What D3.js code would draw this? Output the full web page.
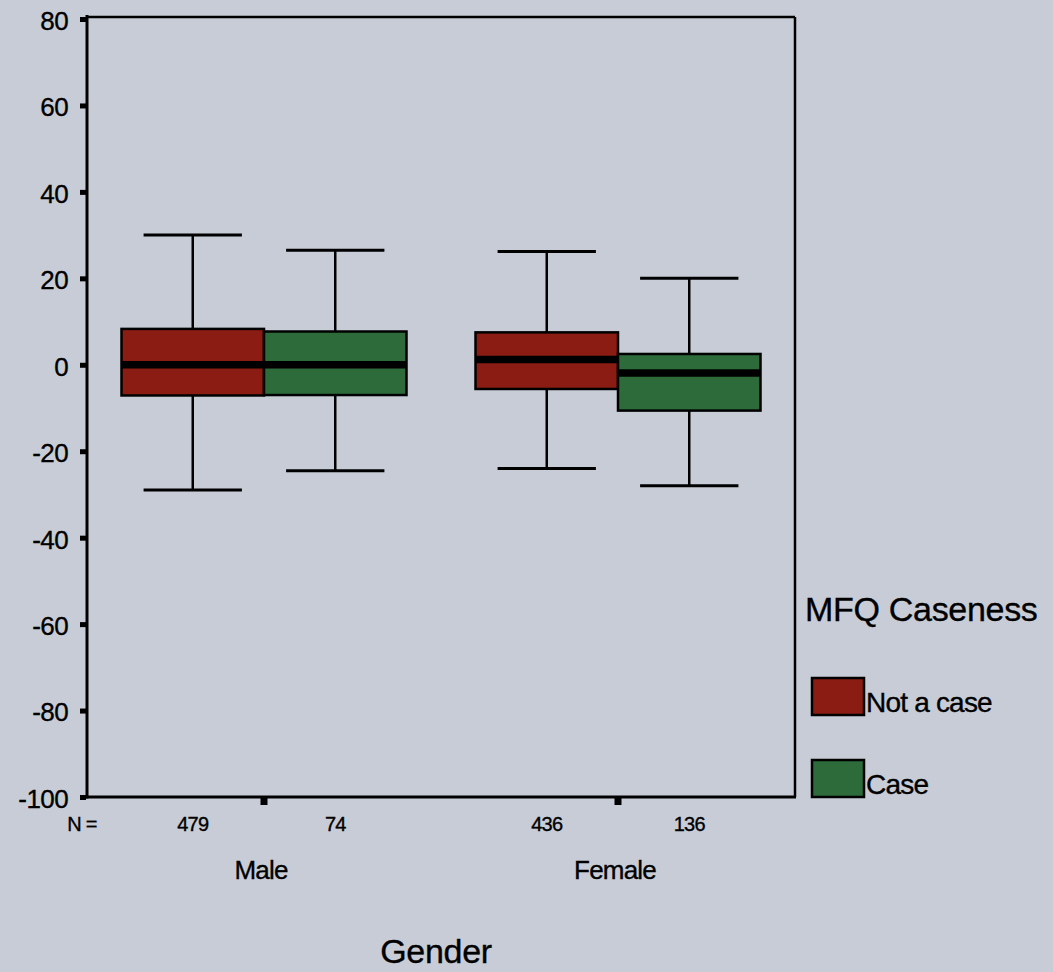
<!DOCTYPE html>
<html>
<head>
<meta charset="utf-8">
<title>MFQ Caseness by Gender</title>
<style>
body { margin: 0; background: #c8ccd6; }
svg { display: block; }
text { font-family: "Liberation Sans", Arial, sans-serif; fill: #000; stroke: #000; stroke-width: 0.35px; }
.y-axis text { font-size: 26px; letter-spacing: -0.6px; }
.y-axis line, .x-axis line { stroke: #000; }
.count { font-size: 20px; letter-spacing: -0.8px; }
.group-label { font-size: 26px; letter-spacing: -0.8px; }
.axis-title { font-size: 34px; letter-spacing: -0.3px; }
.legend-label { font-size: 28px; letter-spacing: -0.8px; }
</style>
</head>
<body>
<svg width="1053" height="972"></svg>
<script src="https://d3js.org/d3.v7.min.js"></script>
<script>

// data
var groups = ["Male", "Female"];
var caseness = ["Not a case", "Case"];
var counts = [[479, 74], [436, 136]];
var whiskerLow  = [[-29, -24.5], [-24, -28]];
var q1          = [[-7.1, -7], [-5.6, -10.6]];
var median      = [[0, 0], [1.2, -1.9]];
var q3          = [[8.3, 7.7], [7.5, 2.5]];
var whiskerHigh = [[30, 26.5], [26.2, 20]];
var yTicks = [80, 60, 40, 20, 0, -20, -40, -60, -80, -100];

var colors = { "Not a case": "#8b1c13", "Case": "#2e6b3b" };

var svg = d3.select("svg");

var plotLeft = 87, plotRight = 795, plotTop = 17, plotBottom = 797;

var y = d3.scaleLinear().domain([-100, 80]).range([plotBottom, plotTop + 2]);
var x0 = d3.scaleBand().domain(groups).range([plotLeft, plotRight]);
var groupWidth = 285;
var x1 = d3.scaleBand().domain(caseness).range([0, groupWidth]);

// build box records
var boxes = [];
groups.forEach(function(g, i) {
  caseness.forEach(function(c, j) {
    boxes.push({
      group: g, cas: c, n: counts[i][j],
      lo: whiskerLow[i][j], q1: q1[i][j], med: median[i][j],
      q3: q3[i][j], hi: whiskerHigh[i][j]
    });
  });
});

function boxX(d) {
  return x0(d.group) + (x0.bandwidth() - groupWidth) / 2 + x1(d.cas);
}

// frame (top + right)
svg.append("line").attr("x1", plotLeft).attr("x2", plotRight).attr("y1", plotTop).attr("y2", plotTop)
  .attr("stroke", "#000").attr("stroke-width", 2.5);
svg.append("line").attr("x1", plotRight).attr("x2", plotRight).attr("y1", plotTop).attr("y2", plotBottom)
  .attr("stroke", "#000").attr("stroke-width", 2.5);

// y axis, plain hyphen for negatives like the original
var yAxis = svg.append("g")
  .attr("class", "y-axis")
  .attr("transform", "translate(" + (plotLeft - 1) + ",0)")
  .call(d3.axisLeft(y).tickValues(yTicks).tickSize(6).tickSizeOuter(0).tickPadding(12)
    .tickFormat(function(d) { return String(d); }));
yAxis.select(".domain").remove();
yAxis.selectAll("line").attr("stroke-width", 5);
yAxis.selectAll("text").attr("dy", "0.4em");

// x axis
var xAxis = svg.append("g")
  .attr("class", "x-axis")
  .attr("transform", "translate(0," + (plotBottom + 1) + ")")
  .call(d3.axisBottom(x0).tickSize(7).tickSizeOuter(0).tickFormat(""));
xAxis.select(".domain").remove();
xAxis.selectAll("line").attr("stroke-width", 7);

svg.append("line").attr("x1", plotLeft).attr("x2", plotLeft).attr("y1", plotTop - 2).attr("y2", plotBottom + 1.5)
  .attr("stroke", "#000").attr("stroke-width", 3);
svg.append("line").attr("x1", plotLeft - 1.5).attr("x2", plotRight + 1).attr("y1", plotBottom).attr("y2", plotBottom)
  .attr("stroke", "#000").attr("stroke-width", 3);

// boxes
var bw = x1.bandwidth();
var capW = bw * 0.69;
var box = svg.append("g").selectAll("g").data(boxes).enter().append("g");

box.append("line")
  .attr("x1", function(d) { return boxX(d) + bw / 2; })
  .attr("x2", function(d) { return boxX(d) + bw / 2; })
  .attr("y1", function(d) { return y(d.hi); })
  .attr("y2", function(d) { return y(d.lo); })
  .attr("stroke", "#000").attr("stroke-width", 2.5);

box.selectAll(".cap").data(function(d) { return [d.hi, d.lo].map(function(v) { return { d: d, v: v }; }); })
  .enter().append("line")
  .attr("x1", function(e) { return boxX(e.d) + (bw - capW) / 2; })
  .attr("x2", function(e) { return boxX(e.d) + (bw + capW) / 2; })
  .attr("y1", function(e) { return y(e.v); })
  .attr("y2", function(e) { return y(e.v); })
  .attr("stroke", "#000").attr("stroke-width", 3);

box.append("rect")
  .attr("x", function(d) { return boxX(d); })
  .attr("width", bw)
  .attr("y", function(d) { return y(d.q3); })
  .attr("height", function(d) { return y(d.q1) - y(d.q3); })
  .attr("fill", function(d) { return colors[d.cas]; })
  .attr("stroke", "#000").attr("stroke-width", 2.5);

box.append("line")
  .attr("x1", function(d) { return boxX(d); })
  .attr("x2", function(d) { return boxX(d) + bw; })
  .attr("y1", function(d) { return y(d.med); })
  .attr("y2", function(d) { return y(d.med); })
  .attr("stroke", "#000").attr("stroke-width", 7.5);

// counts under the axis
svg.append("text").attr("class", "count").attr("x", 82).attr("y", 831)
  .attr("text-anchor", "middle").text("N =");
svg.append("g").selectAll("text").data(boxes).enter().append("text")
  .attr("class", "count")
  .attr("x", function(d) { return boxX(d) + bw / 2; })
  .attr("y", 831)
  .attr("text-anchor", "middle")
  .text(function(d) { return d.n; });

// group labels
svg.append("g").selectAll("text").data(groups).enter().append("text")
  .attr("class", "group-label")
  .attr("x", function(g) { return x0(g) + x0.bandwidth() / 2 - 3; })
  .attr("y", 879)
  .attr("text-anchor", "middle")
  .text(function(g) { return g; });

svg.append("text").attr("class", "axis-title")
  .attr("x", (plotLeft + plotRight) / 2 - 5).attr("y", 963)
  .attr("text-anchor", "middle").text("Gender");

// legend
svg.append("text").attr("class", "axis-title").attr("x", 805).attr("y", 621).text("MFQ Caseness");
var leg = svg.append("g").selectAll("g").data(caseness).enter().append("g")
  .attr("transform", function(c, i) { return "translate(812," + (678 + i * 82) + ")"; });
leg.append("rect").attr("width", 52).attr("height", 37)
  .attr("fill", function(c) { return colors[c]; })
  .attr("stroke", "#000").attr("stroke-width", 2.5);
leg.append("text").attr("class", "legend-label").attr("x", 54).attr("y", 34)
  .text(function(c) { return c; });

</script>
</body>
</html>
